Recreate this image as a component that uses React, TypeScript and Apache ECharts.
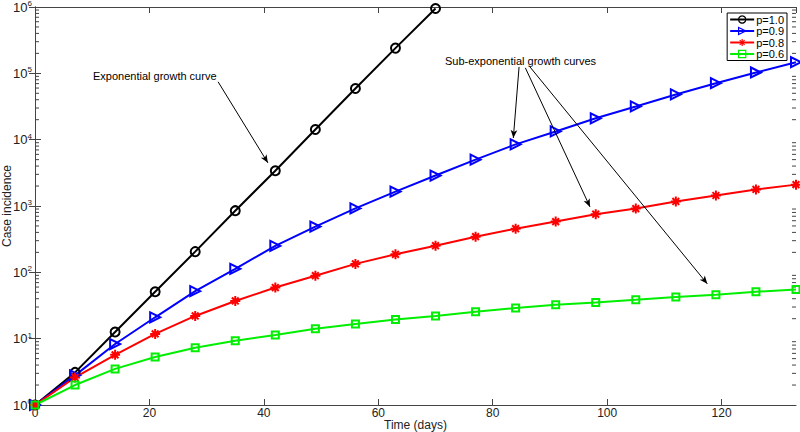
import React, { useEffect, useRef } from "react";
import * as echarts from "echarts";

const days = [0, 7, 14, 21, 28, 35, 42, 49, 56, 63, 70, 77, 84, 91, 98, 105, 112, 119, 126, 133];
const p10 = [1, 3.1, 12.6, 51, 205, 850, 3400, 14200, 59000, 240000, 950000];
const p09 = [1, 2.8, 8.3, 21, 52, 113, 250, 490, 920, 1650, 2880, 5000, 8500, 13300, 21000, 31700, 48000, 71000, 103000, 147000];
const p08 = [1, 2.6, 5.7, 11.8, 22, 37, 59, 89, 134, 187, 252, 345, 455, 582, 752, 914, 1170, 1440, 1780, 2100];
const p06 = [1, 2.0, 3.5, 5.3, 7.3, 9.3, 11.4, 14.1, 16.6, 19.5, 22, 25.4, 29, 32.4, 35, 38.5, 42.5, 46, 51, 55];
const xTicks = [0, 20, 40, 60, 80, 100, 120];
const decades = [0, 1, 2, 3, 4, 5];
const minorMultipliers = [2, 3, 4, 5, 6, 7, 8, 9];
// annotation arrows in data coordinates: [x0, y0, x1, y1]
const arrows = [
  [32.0, 74500, 40.7, 4470],
  [84.6, 125000, 83.6, 10600],
  [85.7, 121000, 97.0, 969],
  [86.5, 125000, 117.5, 67],
];

const FONT = "Liberation Sans, Arial, sans-serif";
const AXIS = "#444";
const TEXT = "#222";

const pair = (vals: number[]) => vals.map((v, i) => [days[i], v]);

export default function App() {
  const ref = useRef<HTMLDivElement>(null);
  useEffect(() => {
    if (!ref.current) return;
    const chart = echarts.init(ref.current, null, { renderer: "svg" });
    const minorData: number[][] = [];
    decades.forEach((d) => minorMultipliers.forEach((m) => minorData.push([0, m * Math.pow(10, d)])));

    const asterisk = "path://M5,0L5,10M0,5L10,5M1.6,1.6L8.4,8.4M1.6,8.4L8.4,1.6";
    const mk = (name: string, color: string, vals: number[], symbol: string, size: number, rotate = 0) => ({
      name,
      type: "line",
      data: pair(vals),
      symbol,
      symbolSize: size,
      symbolRotate: rotate,
      showAllSymbol: true,
      lineStyle: { color, width: 2 },
      itemStyle: { color: "rgba(255,255,255,0)", borderColor: color, borderWidth: 2 },
      emphasis: { disabled: true },
      z: 3,
    });

    const xAxisBase = {
      type: "value",
      min: 0,
      max: 133,
      interval: 20,
      axisLine: { show: true, lineStyle: { color: AXIS, width: 1 } },
      axisTick: { show: true, inside: true, length: 6, lineStyle: { color: AXIS } },
      splitLine: { show: false },
    };
    const yAxisBase = {
      type: "log",
      logBase: 10,
      min: 1,
      max: 1000000,
      splitNumber: 6,
      axisLine: { show: true, lineStyle: { color: AXIS, width: 1 } },
      axisTick: { show: true, inside: true, length: 6, lineStyle: { color: AXIS } },
      splitLine: { show: false },
    };

    chart.setOption({
      animation: false,
      backgroundColor: "#fff",
      textStyle: { fontFamily: FONT },
      grid: { left: 35, right: 4, top: 7, bottom: 27, containLabel: false, outerBoundsMode: "none" },
      legend: {
        data: ["p=1.0", "p=0.9", "p=0.8", "p=0.6"],
        orient: "vertical",
        right: 13,
        top: 13,
        itemWidth: 24,
        itemHeight: 9,
        itemGap: 0.5,
        padding: [1, 3, 1, 2],
        borderColor: "#000",
        borderWidth: 1,
        borderRadius: 0,
        backgroundColor: "#fff",
        selectedMode: false,
        itemStyle: { borderWidth: 1.2 },
        textStyle: { fontSize: 11, lineHeight: 11, color: "#000", fontFamily: FONT, padding: [0, 0, 0, -3] },
      },
      xAxis: [
        {
          ...xAxisBase,
          position: "bottom",
          name: "Time (days)",
          nameLocation: "middle",
          nameGap: 14,
          nameMoveOverlap: false,
          nameTextStyle: { fontSize: 12, color: TEXT, fontFamily: FONT },
          axisLabel: {
            fontSize: 12,
            color: TEXT,
            margin: 2,
            showMaxLabel: false,
            fontFamily: FONT,
            formatter: (v: number) => (xTicks.includes(v) ? String(v) : ""),
          },
        },
        { ...xAxisBase, position: "top", axisLabel: { show: false } },
      ],
      yAxis: [
        {
          ...yAxisBase,
          position: "left",
          name: "Case incidence",
          nameLocation: "middle",
          nameGap: 22,
          nameRotate: 90,
          nameMoveOverlap: false,
          nameTextStyle: { fontSize: 12, color: TEXT, fontFamily: FONT },
          axisLabel: {
            margin: 3,
            fontFamily: FONT,
            formatter: (v: number) => "{b|10}{s|" + Math.round(Math.log10(v)) + "}",
            rich: {
              b: { fontSize: 13, color: TEXT, fontFamily: FONT },
              s: { fontSize: 8, color: TEXT, fontFamily: FONT, verticalAlign: "top", padding: [0, 0, 7, 0] },
            },
          },
        },
        { ...yAxisBase, position: "right", axisLabel: { show: false } },
      ],
      series: [
        {
          name: "minor",
          type: "custom",
          silent: true,
          data: minorData,
          renderItem: (params: any, api: any) => {
            const p = api.coord([0, api.value(1)]);
            const cs = params.coordSys;
            const st = { stroke: AXIS, lineWidth: 1 };
            return {
              type: "group",
              children: [
                { type: "line", shape: { x1: cs.x, y1: p[1], x2: cs.x + 4, y2: p[1] }, style: st },
                { type: "line", shape: { x1: cs.x + cs.width, y1: p[1], x2: cs.x + cs.width - 4, y2: p[1] }, style: st },
              ],
            };
          },
          z: 1,
        },
        mk("p=1.0", "#000000", p10, "circle", 9),
        mk("p=0.9", "#0000ff", p09, "triangle", 10, -90),
        mk("p=0.8", "#ff0000", p08, asterisk, 10),
        {
          ...mk("p=0.6", "#00ee00", p06, "rect", 7),
          markLine: {
            silent: true,
            symbol: ["none", "arrow"],
            symbolSize: [5, 8],
            label: { show: false },
            lineStyle: { color: "#000", width: 1, type: "solid" },
            emphasis: { disabled: true },
            data: arrows.map((a) => [{ coord: [a[0], a[1]] }, { coord: [a[2], a[3]] }]),
          },
        },
      ],
      graphic: [
        {
          type: "text",
          left: 93,
          top: 70,
          style: { text: "Exponential growth curve", fontSize: 11, fill: "#000", fontFamily: FONT },
        },
        {
          type: "text",
          left: 445,
          top: 55,
          style: { text: "Sub-exponential growth curves", fontSize: 11, fill: "#000", fontFamily: FONT },
        },
      ],
    });
    return () => chart.dispose();
  }, []);
  return <div ref={ref} style={{ width: 800, height: 432, position: "absolute", left: 0, top: 0 }} />;
}
